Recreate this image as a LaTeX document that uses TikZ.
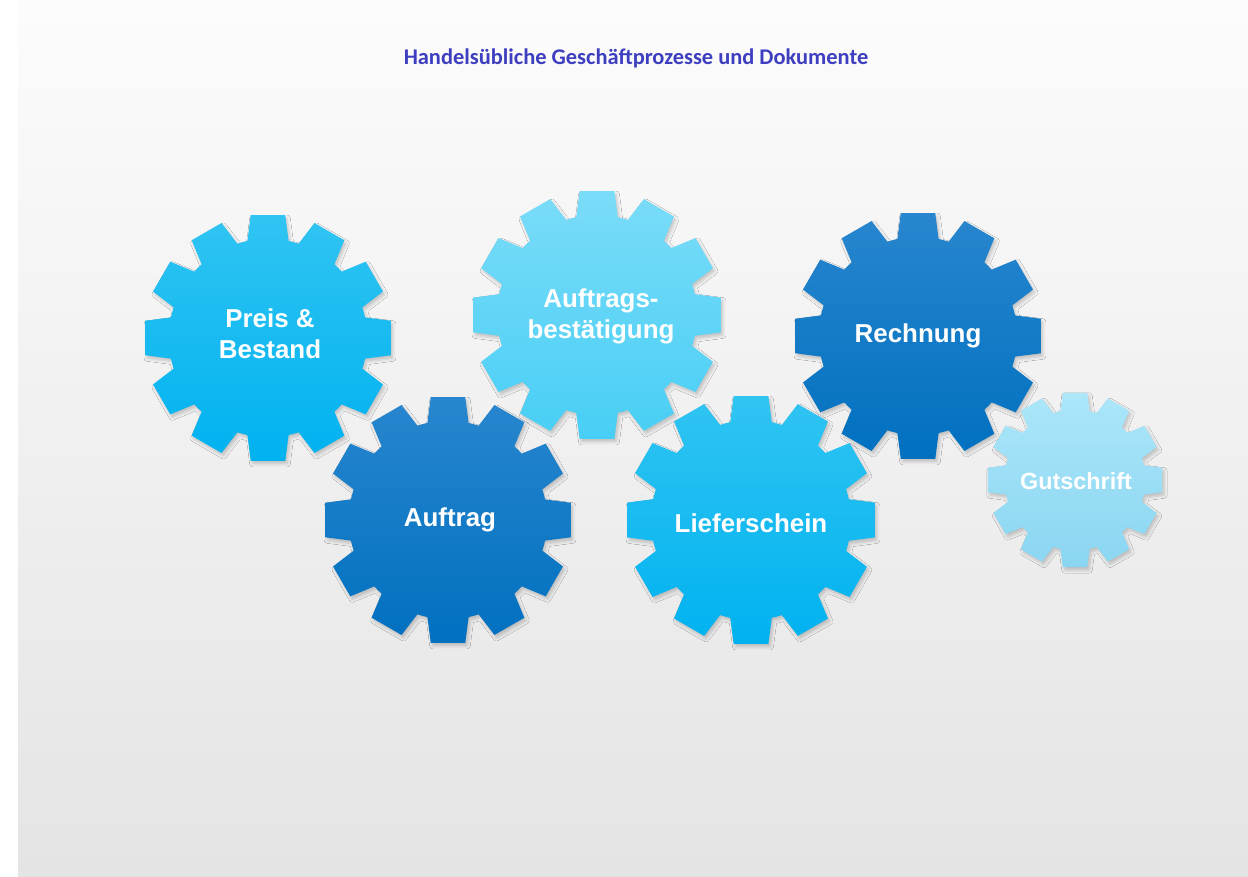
\documentclass[tikz,border=0pt]{standalone}
\usepackage{fontspec}
\setmainfont{Liberation Sans}
\newfontfamily\titlefont{Carlito}
\usepackage{tikz}
\usetikzlibrary{shadows.blur}
\definecolor{bgtop}{RGB}{252, 252, 252}
\definecolor{bgbot}{RGB}{228, 228, 228}
\definecolor{titleblue}{RGB}{62, 62, 192}
\definecolor{cyantop}{RGB}{48, 196, 242}
\definecolor{cyanbot}{RGB}{0, 178, 240}
\definecolor{palestop}{RGB}{122, 220, 248}
\definecolor{palebot}{RGB}{72, 206, 245}
\definecolor{darktop}{RGB}{40, 134, 206}
\definecolor{darkbot}{RGB}{0, 112, 192}
\definecolor{icetop}{RGB}{172, 230, 249}
\definecolor{icebot}{RGB}{138, 214, 242}

% gear outline, 12 teeth, #1 = outer radius
\newcommand{\gearpath}[1]{(-12:0.8*#1)
  \foreach \a in {0,30,...,330} {
    -- (\a-12:0.8*#1) -- (\a-8:#1) -- (\a+8:#1) -- (\a+12:0.8*#1)
    arc[start angle=\a+12, end angle=\a+18, radius=0.8*#1]
  } -- cycle}

\begin{document}
\begin{tikzpicture}[x=1bp, y=-1bp,
  gear/.style={blur shadow={shadow xshift=2bp, shadow yshift=-3bp,
    shadow opacity=20, shadow blur radius=3bp}},
  label/.style={white, align=center, font=\bfseries\fontsize{26}{31}\selectfont}]
\useasboundingbox (0,0) rectangle (1248,877);

% background
\fill[white] (0,0) rectangle (1248,877);
\shade[top color=bgtop, bottom color=bgbot] (18,0) rectangle (1248,877);

% title
\node[titleblue, font=\titlefont\bfseries\fontsize{22.5}{27}\selectfont] (title) at (636,58)
  {Handelsübliche Geschäftprozesse und Dokumente};

% Preis & Bestand
\begin{scope}[shift={(268,338)}]
\path[gear, top color=cyantop, bottom color=cyanbot] \gearpath{124};
\node[label] (preis) at (2,-4) {Preis \&\\Bestand};
\end{scope}

% Auftragsbestaetigung
\begin{scope}[shift={(597,315)}]
\path[gear, top color=palestop, bottom color=palebot] \gearpath{125};
\node[label] (bestaetigung) at (4,1) {Auftrags-\\bestätigung};
\end{scope}

% Rechnung
\begin{scope}[shift={(918,336)}]
\path[gear, top color=darktop, bottom color=darkbot] \gearpath{124};
\node[label] (rechnung) at (0,0) {Rechnung};
\end{scope}

% Auftrag
\begin{scope}[shift={(448,520)}]
\path[gear, top color=darktop, bottom color=darkbot] \gearpath{124};
\node[label] (auftrag) at (2,0) {Auftrag};
\end{scope}

% Lieferschein
\begin{scope}[shift={(751,520)}]
\path[gear, top color=cyantop, bottom color=cyanbot] \gearpath{125};
\node[label] (liefer) at (0,3) {Lieferschein};
\end{scope}

% Gutschrift
\begin{scope}[shift={(1075,480)}]
\path[gear, top color=icetop, bottom color=icebot] \gearpath{88};
\node[label, font=\bfseries\fontsize{23.5}{28}\selectfont] (gutschrift) at (1,1) {Gutschrift};
\end{scope}
\end{tikzpicture}
\end{document}
